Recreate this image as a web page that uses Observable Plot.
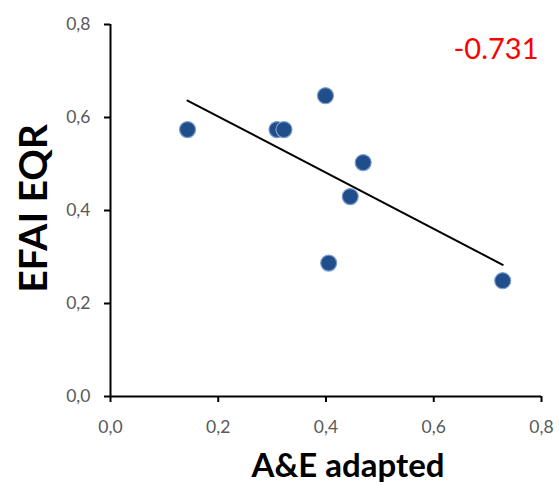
<!DOCTYPE html>
<html>
<head>
<meta charset="utf-8">
<script src="https://cdn.jsdelivr.net/npm/d3@7"></script>
<script src="https://cdn.jsdelivr.net/npm/@observablehq/plot@0.6"></script>
<style>
  html, body { margin: 0; padding: 0; background: #ffffff; }
</style>
</head>
<body>
<div id="chart"></div>
<script>
// Data
const aeAdapted = [0.143, 0.309, 0.322, 0.399, 0.469, 0.445, 0.405, 0.728];
const efaiEqr   = [0.574, 0.574, 0.574, 0.647, 0.503, 0.430, 0.287, 0.249];
const tickValues = [0, 0.2, 0.4, 0.6, 0.8];
const xTitle = "A&E adapted";
const yTitle = "EFAI EQR";
const correlationLabel = "-0.731";

const data = aeAdapted.map((x, i) => ({x, y: efaiEqr[i]}));
const fmt = d => d.toFixed(1).replace(".", ",");

const chart = Plot.plot({
  width: 559,
  height: 485,
  marginLeft: 110,
  marginRight: 18,
  marginTop: 24,
  marginBottom: 89,
  style: {fontFamily: "Lato, 'Open Sans', sans-serif", fontSize: "17.5px", background: "#ffffff"},
  x: {domain: [0, 0.8]},
  y: {domain: [0, 0.8]},
  marks: [
    Plot.axisX({ticks: tickValues, tickFormat: fmt, tickSize: 6, tickPadding: 18, fontSize: 17.5,
      stroke: "black", strokeWidth: 2, fill: "#595959", label: null}),
    Plot.axisY({ticks: tickValues, tickFormat: fmt, tickSize: 6, tickPadding: 14, fontSize: 17.5,
      stroke: "black", strokeWidth: 2, fill: "#595959", label: null}),
    Plot.ruleY([0], {stroke: "black", strokeWidth: 2}),
    Plot.ruleX([0], {stroke: "black", strokeWidth: 2}),
    Plot.linearRegressionY(data, {x: "x", y: "y", stroke: "black", strokeWidth: 2, ci: 0}),
    Plot.dot(data, {x: "x", y: "y", r: 8, fill: "#1f4e8a", stroke: "#7b9ccf", strokeWidth: 1.2}),
    Plot.text([correlationLabel], {frameAnchor: "top-right", text: d => d, dx: -3, dy: 25,
      lineAnchor: "middle", textAnchor: "end", fill: "#ff0000", fontSize: 29}),
    Plot.text([xTitle], {frameAnchor: "bottom", text: d => d, dx: 22, dy: 70,
      lineAnchor: "middle", textAnchor: "middle", fill: "#000", fontSize: 33, fontWeight: "bold"}),
    Plot.text([yTitle], {frameAnchor: "left", text: d => d, dx: -76, dy: -2, rotate: -90,
      lineAnchor: "middle", textAnchor: "middle", fill: "#000", fontSize: 39, fontWeight: "bold"})
  ]
});
document.getElementById("chart").appendChild(chart);
</script>
</body>
</html>
